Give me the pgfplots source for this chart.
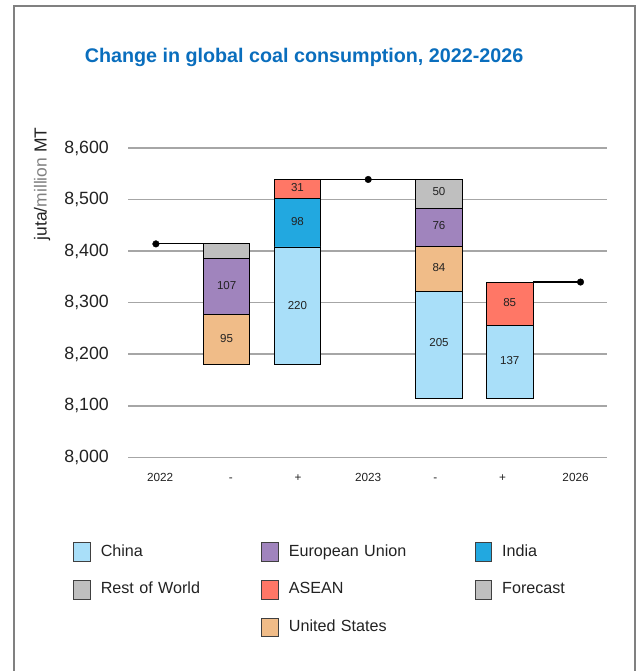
\documentclass[border=0pt]{standalone}
\usepackage{pgfplots}
\pgfplotsset{compat=1.18}
\usepackage{fontspec}
\setmainfont{Liberation Sans}

\definecolor{cChina}{HTML}{A9DFF9}
\definecolor{cEU}{HTML}{A084BD}
\definecolor{cIndia}{HTML}{22A8E0}
\definecolor{cGrey}{HTML}{BFBFBF}
\definecolor{cASEAN}{HTML}{FF7766}
\definecolor{cUS}{HTML}{F0BC88}
\definecolor{cTitle}{HTML}{0A6EBD}
\definecolor{cGrid}{HTML}{A6A6A6}
\definecolor{cFrame}{HTML}{808080}
\definecolor{cText}{HTML}{222222}

\pgfplotsset{
  frame/.style={
    scale only axis, width=478.4bp, height=309.3bp,
    at={(128.3bp,-457.3bp)}, anchor=south west,
    xmin=-0.39, xmax=6.37, ymin=8000, ymax=8600,
  },
}

\begin{document}
\begin{tikzpicture}
\useasboundingbox (0bp,0bp) rectangle (637bp,-671bp);
\draw[cFrame, line width=2bp] (13.7bp,-672bp) -- (13.7bp,-6bp) -- (634.5bp,-6bp) -- (634.5bp,-672bp);
\node[anchor=base, text=cTitle, font=\bfseries\fontsize{19.8}{22}\selectfont]
  at (304bp,-62.7bp) {Change in global coal consumption, 2022-2026};
\node[rotate=90, anchor=base, text=cText, font=\fontsize{17.5}{20}\selectfont]
  at (46.5bp,-184bp) {juta/\textcolor{gray}{million} MT};

% waterfall bars
\begin{axis}[frame,
  ybar stacked, bar width=46.5bp,
  axis line style={draw=none}, major tick length=0pt,
  ymajorgrids, grid style={cGrid, line width=1.5bp},
  ytick={8000,8100,...,8600},
  xtick={0.06,1.06,2.01,3,3.95,4.9,5.93},
  xticklabels={2022,-,+,2023,-,+,2026},
  yticklabel style={font=\fontsize{17.8}{20}\selectfont, text=cText, xshift=-16bp},
  xticklabel style={font=\fontsize{11.8}{14}\selectfont, text=cText, yshift=-12bp,
    text height=8.5bp, text depth=2.5bp},
  /pgf/number format/assume math mode=true,
  /pgf/number format/1000 sep={,},
  every axis plot/.append style={draw=black, line width=0.9bp},
]
\addplot[draw=none, fill=none] coordinates {(1,8180) (2,8180) (4,8115) (5,8115)};
\addplot[fill=cChina] coordinates {(1,0) (2,228) (4,206) (5,140)};
\addplot[fill=cUS]    coordinates {(1,97) (2,0) (4,88) (5,0)};
\addplot[fill=cEU]    coordinates {(1,109) (2,0) (4,74) (5,0)};
\addplot[fill=cIndia] coordinates {(1,0) (2,94) (4,0) (5,0)};
\addplot[fill=cASEAN] coordinates {(1,0) (2,37) (4,0) (5,85)};
\addplot[fill=cGrey]  coordinates {(1,28) (2,0) (4,0) (5,0)}; % rest of world
\addplot[fill=cGrey]  coordinates {(1,0) (2,0) (4,56) (5,0)}; % forecast
\end{axis}

% totals, connectors, labels, legend
\begin{axis}[frame, hide axis, clip=false,
  legend columns=3, legend cell align=left,
  legend image code/.code={\draw[#1, draw=black!75, line width=0.8bp] (0bp,-9.2bp) rectangle (16.7bp,9.2bp);},
  legend style={draw=none, fill=none, inner sep=0pt, outer sep=0pt,
    at={(axis description cs:-0.115,-0.2748)}, anchor=north west,
    font=\fontsize{16.2}{19}\selectfont, text=cText, row sep=18.6bp,
    /tikz/every odd column/.style={column sep=10bp},
    nodes={inner sep=0pt, text height=12bp, text depth=3.5bp}},
]
\addlegendimage{fill=cChina}\addlegendentry[text width=160.6bp]{China}
\addlegendimage{fill=cEU}\addlegendentry[text width=185.8bp]{European Union}
\addlegendimage{fill=cIndia}\addlegendentry[text width=100bp]{India}
\addlegendimage{fill=cGrey}\addlegendentry[text width=160.6bp]{Rest of World}
\addlegendimage{fill=cASEAN}\addlegendentry[text width=185.8bp]{ASEAN}
\addlegendimage{fill=cGrey}\addlegendentry[text width=100bp]{Forecast}
\addlegendimage{empty legend}\addlegendentry[text width=160.6bp]{}
\addlegendimage{fill=cUS}\addlegendentry[text width=185.8bp]{United States}

\addplot[black, line width=1.2bp, forget plot] coordinates {(0,8414) (0.6715,8414)};
\addplot[black, line width=1.2bp, forget plot] coordinates {(2.3285,8539) (3.6715,8539)};
\addplot[black, line width=1.2bp, forget plot] coordinates {(5.3285,8340) (6,8340)};
\addplot[only marks, mark=*, mark size=3.3bp, black, forget plot]
  coordinates {(0,8414) (3,8539) (6,8340)};

\begin{scope}[every node/.style={font=\fontsize{11.6}{13}\selectfont, text=cText}]
\node at (axis cs:1,8231) {95};
\node at (axis cs:1,8333) {107};
\node at (axis cs:2,8295) {220};
\node at (axis cs:2,8457) {98};
\node at (axis cs:2,8523) {31};
\node at (axis cs:4,8222) {205};
\node at (axis cs:4,8368) {84};
\node at (axis cs:4,8449) {76};
\node at (axis cs:4,8516) {50};
\node at (axis cs:5,8188) {137};
\node at (axis cs:5,8301) {85};
\end{scope}
\end{axis}
\end{tikzpicture}
\end{document}
